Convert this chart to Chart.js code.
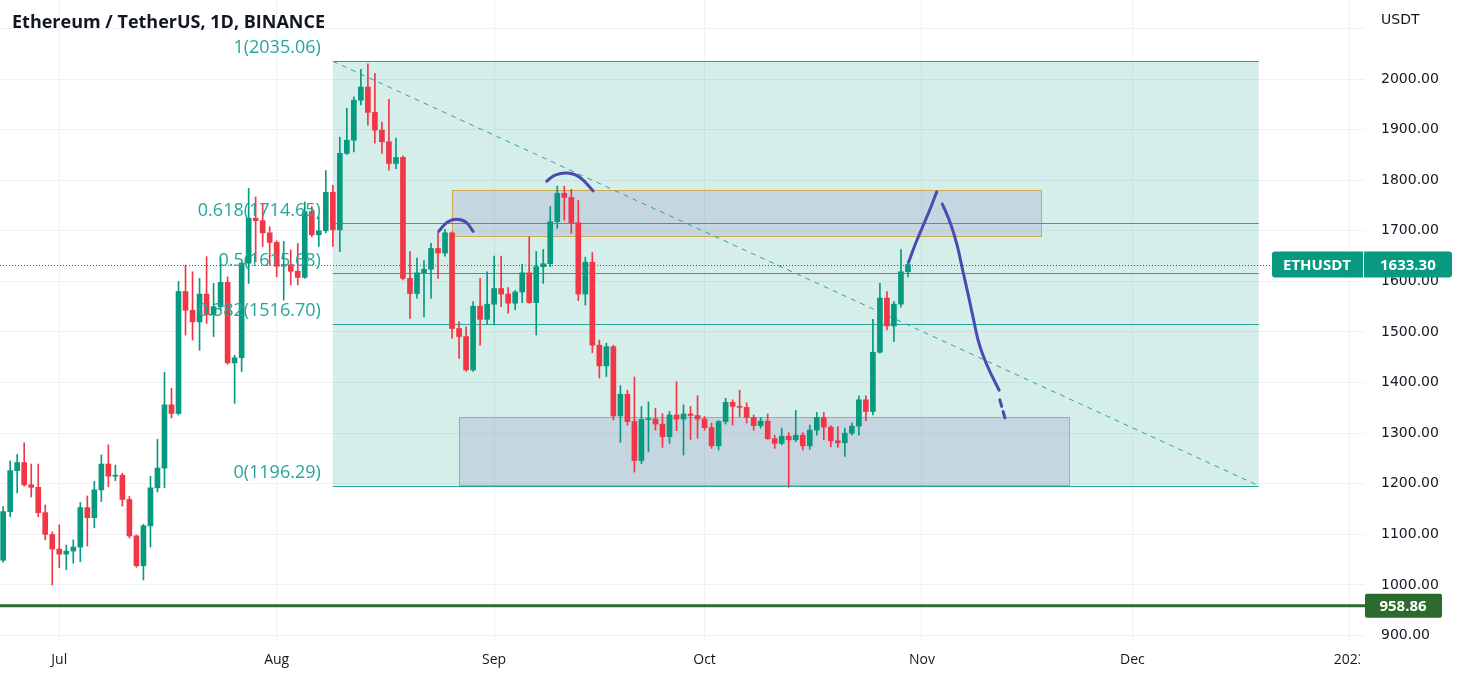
<!DOCTYPE html>
<html>
<head>
<meta charset="utf-8">
<script src="https://cdn.jsdelivr.net/npm/chart.js@4.4.0/dist/chart.umd.min.js"></script>
<style>
  html, body { margin: 0; padding: 0; background: #fff; }
  #wrap { width: 1460px; height: 680px; }
</style>
</head>
<body>
<div id="wrap"><canvas id="chart" width="1460" height="680"></canvas></div>
<script>
// daily candles, one per day starting at startDate
const startDate = "2022-06-23";
const opens = [1049,1145,1226,1242,1198,1193,1143,1100,
  1071,1061,1067,1075,1153,1133,1188,1239,1215,1217,1169,1097,1038,1117,1192,1231,1356,1339,1580,1543,1520,1575,1534,1550,1598,1439,1449,1636,1725,1720,1696,
  1677,1630,1633,1620,1608,1738,1692,1700,1776,1702,1853,1879,1958,1984,1934,1899,1876,1833,1845,1606,1576,1617,1624,1665,1656,1696,1507,1491,1425,1551,1525,
  1555,1586,1575,1557,1579,1617,1558,1629,1635,1718,1774,1766,1716,1575,1638,1474,1433,1471,1334,1377,1323,1246,1327,1328,1318,1293,1336,1328,1338,1335,
  1328,1311,1275,1323,1361,1353,1351,1331,1315,1324,1289,1280,1294,1287,1296,1275,1306,1331,1312,1285,1281,1300,1314,1366,1343,1460,1567,1512,1555,1619];
const highs = [1155,1245,1258,1281,1239,1239,1158,1105,
  1119,1079,1089,1163,1176,1205,1257,1277,1237,1221,1175,1099,1120,1215,1288,1420,1389,1600,1632,1619,1606,1649,1596,1646,1609,1454,1640,1784,1767,1754,1708,
  1680,1679,1662,1675,1757,1748,1728,1819,1790,1885,1942,1965,2019,2030,2011,1915,1960,1883,1848,1659,1646,1641,1675,1696,1703,1698,1520,1510,1560,1606,1619,
  1650,1650,1588,1582,1634,1688,1659,1663,1748,1788,1788,1782,1760,1648,1657,1484,1478,1474,1394,1385,1411,1353,1362,1349,1339,1343,1402,1356,1353,1374,
  1333,1320,1325,1369,1366,1385,1360,1336,1331,1338,1296,1310,1301,1345,1301,1316,1341,1341,1315,1313,1310,1320,1374,1374,1525,1596,1580,1560,1663,1639];
const lows = [1045,1135,1182,1195,1174,1135,1089,1000,
  1034,1030,1043,1046,1077,1113,1165,1194,1206,1156,1093,1035,1010,1075,1184,1192,1330,1336,1494,1484,1464,1517,1491,1543,1436,1359,1422,1596,1639,1669,1632,
  1609,1563,1593,1593,1606,1688,1669,1696,1669,1659,1851,1856,1949,1909,1873,1853,1820,1823,1603,1527,1567,1530,1567,1606,1650,1488,1448,1422,1422,1474,1516,
  1514,1550,1537,1544,1558,1557,1494,1596,1629,1705,1721,1695,1562,1553,1459,1409,1412,1326,1282,1316,1223,1240,1263,1306,1272,1280,1305,1257,1288,1290,
  1306,1270,1267,1318,1316,1333,1320,1306,1310,1288,1270,1277,1193,1283,1267,1268,1296,1287,1273,1272,1254,1296,1296,1325,1336,1458,1504,1481,1549,1609];
const closes = [1145,1226,1242,1198,1193,1143,1100,1071,
  1061,1067,1075,1153,1133,1188,1239,1215,1217,1169,1097,1038,1117,1192,1231,1356,1339,1580,1543,1520,1575,1534,1550,1598,1439,1449,1636,1725,1720,1696,1677,
  1630,1633,1620,1608,1738,1692,1700,1776,1702,1853,1879,1958,1984,1934,1899,1876,1833,1845,1606,1576,1617,1624,1665,1656,1696,1507,1491,1425,1551,1525,1555,
  1586,1575,1557,1579,1617,1558,1629,1635,1718,1774,1766,1716,1575,1638,1474,1433,1471,1334,1377,1323,1246,1327,1328,1318,1293,1336,1328,1338,1335,1328,
  1311,1275,1323,1361,1353,1351,1331,1315,1324,1289,1280,1294,1287,1296,1275,1306,1331,1312,1285,1281,1300,1314,1366,1343,1460,1567,1512,1555,1619,1633.3];

const monthTicks = ["2022-07-01", "2022-08-01", "2022-09-01", "2022-10-01", "2022-11-01", "2022-12-01", "2023-01-01"];
const monthLabels = ["Jul", "Aug", "Sep", "Oct", "Nov", "Dec", "2023"];
const priceTicks = [900, 1000, 1100, 1200, 1300, 1400, 1500, 1600, 1700, 1800, 1900, 2000, 2100];

// fib retracement
const fibDates = ["2022-08-09", "2022-12-19"];
const fibRatios = ["1", "0.618", "0.5", "0.382", "0"];
const fibPrices = [2035.06, 1714.65, 1615.68, 1516.70, 1196.29];

// rectangles (start date, end date, top, bottom)
const zoneStarts = ["2022-08-26", "2022-08-27"];
const zoneEnds = ["2022-11-18", "2022-11-22"];
const zoneTops = [1780, 1332];
const zoneBottoms = [1690, 1197];

const lastPrice = 1633.30;
const supportPrice = 958.86;

// hand drawn strokes: [day since Jul 1, price]
const sketchArc1 = [[54.1, 1699], [55.3, 1717], [56.6, 1723], [58.0, 1717], [59.0, 1699]];
const sketchArc2 = [[69.5, 1798], [70.7, 1810], [72.5, 1814], [74.2, 1806], [76.1, 1779]];
const sketchUp = [[121.1, 1638], [122.0, 1672], [123.0, 1705], [124.1, 1741], [125.1, 1777]];
const sketchDown = [[125.9, 1753], [127.0, 1717], [128.0, 1672], [128.8, 1622], [129.6, 1573], [130.3, 1528], [131.0, 1484], [131.7, 1454], [132.7, 1421], [134.0, 1385]];
const sketchTail = [[134.1, 1366], [134.5, 1346], [135.0, 1322]];

const GREEN = "#089981";
const RED = "#f23645";
const TEAL = "#26a69a";
const SKETCH = "#4a4ab0";

const baseDay = Date.UTC(2022, 6, 1);
function dayOf(s) {
    const [y, m, d] = s.split("-").map(Number);
    return (Date.UTC(y, m - 1, d) - baseDay) / 86400000;
}

const first = dayOf(startDate);
const candleX = opens.map((_, i) => first + i);
const candleColors = opens.map((o, i) => closes[i] >= o ? GREEN : RED);
const toPts = arr => arr.map(([x, y]) => ({ x, y }));

Chart.defaults.font.family = '"Open Sans", "Noto Sans", sans-serif';
Chart.defaults.color = "#131722";

function sketchSet(points, dashed) {
    return {
        type: "line",
        data: toPts(points),
        borderColor: SKETCH,
        borderWidth: 3,
        borderCapStyle: "round",
        borderJoinStyle: "round",
        borderDash: dashed ? [7, 5] : [],
        pointRadius: 0,
        tension: 0.4,
        fill: false,
        order: 0
    };
}

// drawings under the candles
const underlay = {
    id: "underlay",
    beforeDatasetsDraw(chart) {
        const { ctx, chartArea: a, scales: { x, y } } = chart;
        ctx.save();
        ctx.beginPath();
        ctx.rect(a.left, a.top, a.right - a.left, a.bottom - a.top);
        ctx.clip();

        // fib box
        const fx1 = x.getPixelForValue(dayOf(fibDates[0]));
        const fx2 = x.getPixelForValue(dayOf(fibDates[1]));
        const fTop = y.getPixelForValue(fibPrices[0]);
        const fBot = y.getPixelForValue(fibPrices[fibPrices.length - 1]);
        ctx.fillStyle = "rgba(8,153,129,0.17)";
        ctx.fillRect(fx1, fTop, fx2 - fx1, fBot - fTop);

        // zones
        zoneStarts.forEach((s, i) => {
            const zx1 = x.getPixelForValue(dayOf(s));
            const zx2 = x.getPixelForValue(dayOf(zoneEnds[i]));
            const zy1 = y.getPixelForValue(zoneTops[i]);
            const zy2 = y.getPixelForValue(zoneBottoms[i]);
            ctx.fillStyle = "rgba(150,145,195,0.25)";
            ctx.fillRect(zx1, zy1, zx2 - zx1, zy2 - zy1);
            ctx.strokeStyle = "rgba(205,160,50,0.85)";
            ctx.lineWidth = 1;
            ctx.strokeRect(Math.round(zx1) + 0.5, Math.round(zy1) + 0.5, Math.round(zx2 - zx1), Math.round(zy2 - zy1));
        });

        // fib levels
        ctx.strokeStyle = TEAL;
        ctx.lineWidth = 1;
        fibPrices.forEach(p => {
            const py = Math.round(y.getPixelForValue(p)) + 0.5;
            ctx.beginPath();
            ctx.moveTo(fx1, py);
            ctx.lineTo(fx2, py);
            ctx.stroke();
        });

        // trend line
        ctx.setLineDash([5, 5]);
        ctx.beginPath();
        ctx.moveTo(fx1, fTop);
        ctx.lineTo(fx2, fBot);
        ctx.stroke();

        // last price dotted
        const ly = Math.round(y.getPixelForValue(lastPrice)) + 0.5;
        ctx.strokeStyle = "#3d5f5a";
        ctx.setLineDash([1, 2]);
        ctx.beginPath();
        ctx.moveTo(a.left, ly);
        ctx.lineTo(a.right, ly);
        ctx.stroke();

        // support line
        ctx.setLineDash([]);
        const sy = y.getPixelForValue(supportPrice);
        ctx.strokeStyle = "#2d6a2e";
        ctx.lineWidth = 3;
        ctx.beginPath();
        ctx.moveTo(a.left, sy);
        ctx.lineTo(a.right, sy);
        ctx.stroke();
        ctx.restore();
    }
};

function roundRect(ctx, x, y, w, h, r) {
    ctx.beginPath();
    ctx.moveTo(x + r, y);
    ctx.arcTo(x + w, y, x + w, y + h, r);
    ctx.arcTo(x + w, y + h, x, y + h, r);
    ctx.arcTo(x, y + h, x, y, r);
    ctx.arcTo(x, y, x + w, y, r);
    ctx.closePath();
}

// labels and tags on top
const overlay = {
    id: "overlay",
    afterDatasetsDraw(chart) {
        const { ctx, chartArea: a, scales: { x, y } } = chart;
        ctx.save();

        // fib labels
        const fx1 = x.getPixelForValue(dayOf(fibDates[0]));
        ctx.fillStyle = TEAL;
        ctx.font = '18px "Open Sans"';
        ctx.textAlign = "right";
        ctx.textBaseline = "bottom";
        fibPrices.forEach((p, i) => {
            ctx.fillText(`${fibRatios[i]}(${p.toFixed(2)})`, fx1 - 12, y.getPixelForValue(p) - 4);
        });

        // title
        ctx.fillStyle = "#131722";
        ctx.font = 'bold 18px "Open Sans"';
        ctx.textAlign = "left";
        ctx.textBaseline = "middle";
        ctx.fillText("Ethereum / TetherUS, 1D, BINANCE", 12, 23);

        // axis unit
        ctx.font = '14px "DejaVu Sans"';
        ctx.fillText("USDT", a.right + 16, 20);

        // corner of the two axes stays blank (cuts the last labels)
        ctx.fillStyle = "#fff";
        ctx.fillRect(a.right - 5, a.bottom, chart.width - a.right + 5, chart.height - a.bottom);

        // last price tag
        const ly = y.getPixelForValue(lastPrice);
        ctx.fillStyle = GREEN;
        roundRect(ctx, a.right - 93, ly - 13, 180, 26, 3);
        ctx.fill();
        ctx.fillStyle = "#fff";
        ctx.fillRect(a.right - 2, ly - 13, 1, 26);
        ctx.font = 'bold 15px "Open Sans"';
        ctx.textAlign = "center";
        ctx.fillText("ETHUSDT", a.right - 48, ly + 1);
        ctx.textAlign = "left";
        ctx.fillText(lastPrice.toFixed(2), a.right + 15, ly + 1);

        // support tag
        const sy = y.getPixelForValue(supportPrice);
        ctx.fillStyle = "#2d6a2e";
        roundRect(ctx, a.right, sy - 12, 77, 24, 2);
        ctx.fill();
        ctx.fillStyle = "#fff";
        ctx.textAlign = "center";
        ctx.fillText(supportPrice.toFixed(2), a.right + 38, sy + 1);
        ctx.restore();
    }
};

new Chart(document.getElementById("chart"), {
    type: "bar",
    data: {
        datasets: [
            {
                label: "wick",
                data: candleX.map((d, i) => ({ x: d, y: [lows[i], highs[i]] })),
                backgroundColor: candleColors,
                barThickness: 1,
                grouped: false,
                order: 2
            },
            {
                label: "body",
                data: candleX.map((d, i) => ({ x: d, y: [opens[i], closes[i]] })),
                backgroundColor: candleColors,
                barThickness: 5,
                minBarLength: 1,
                grouped: false,
                order: 1
            },
            sketchSet(sketchArc1),
            sketchSet(sketchArc2),
            sketchSet(sketchUp),
            sketchSet(sketchDown),
            sketchSet(sketchTail, true)
        ]
    },
    options: {
        responsive: false,
        animation: false,
        layout: { padding: 0 },
        plugins: { legend: { display: false }, tooltip: { enabled: false } },
        scales: {
            x: {
                type: "linear",
                offset: false,
                min: -8.45,
                max: 186.16,
                afterBuildTicks: s => { s.ticks = monthTicks.map(d => ({ value: dayOf(d) })); },
                afterFit: s => { s.height = 40; s.paddingLeft = 0; s.paddingRight = 0; },
                ticks: {
                    callback: (v, i) => monthLabels[i],
                    autoSkip: false,
                    maxRotation: 0,
                    padding: 12,
                    color: "#131722",
                    font: { size: 14 }
                },
                grid: { color: "#eef1f6", drawTicks: false, offset: false },
                border: { display: false }
            },
            y: {
                position: "right",
                min: 891.3,
                max: 2156.13,
                afterBuildTicks: s => { s.ticks = priceTicks.map(v => ({ value: v })); },
                afterFit: s => { s.width = 95; s.paddingTop = 0; s.paddingBottom = 0; },
                ticks: {
                    callback: v => v > 2050 ? "" : v.toFixed(2),
                    padding: 16,
                    color: "#131722",
                    font: { size: 14, family: '"DejaVu Sans", sans-serif' }
                },
                grid: { color: "#eef1f6", drawTicks: false },
                border: { display: false }
            }
        }
    },
    plugins: [underlay, overlay]
});
</script>
</body>
</html>
